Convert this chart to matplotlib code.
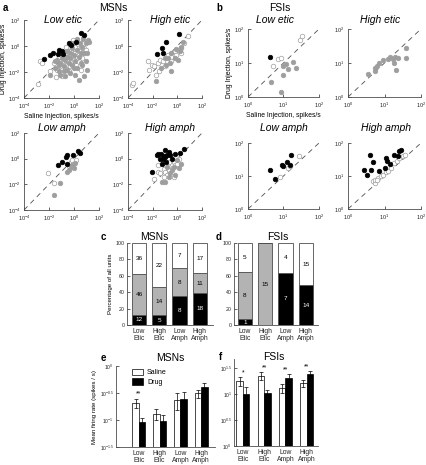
import numpy as np
import matplotlib
matplotlib.use('Agg')
import matplotlib.pyplot as plt
from matplotlib.ticker import FixedLocator, FixedFormatter, NullLocator

plt.rcParams['font.family'] = ['Liberation Sans', 'DejaVu Sans']
plt.rcParams['mathtext.fontset'] = 'custom'
plt.rcParams['mathtext.rm'] = 'Liberation Sans'
plt.rcParams['mathtext.it'] = 'Liberation Sans:italic'
plt.rcParams['axes.linewidth'] = 0.6

# ---- scatter data: (log10 saline rate, log10 drug rate) ----
# MSNs, low eticlopride
msn_le_inc = [(-2.44, -1.01), (-1.96, -0.68), (-1.69, -0.55), (-1.31, -0.60), (-0.94, -0.42),
              (-0.88, -0.60), (-0.42, 0.21), (-0.24, 0.06), (0.19, 0.27), (0.57, 0.98),
              (0.78, 0.85), (-1.23, -0.30)]
msn_le_dec = [(-1.90, -2.21), (-1.50, -1.70), (-1.23, -1.95), (-1.10, -1.32), (-0.83, -1.57),
              (-0.69, -1.06), (-0.56, -1.83), (-0.42, -1.32), (-0.29, -0.93), (-0.16, -1.44),
              (-0.02, -0.68), (0.11, -1.19), (0.25, -0.30), (0.38, -0.81), (0.52, -1.32),
              (0.65, -0.04), (0.78, -0.55), (0.92, 0.21), (1.05, -0.55), (1.11, 0.47),
              (-0.69, -2.34), (-0.34, -2.08), (0.11, -2.21), (0.78, -2.34), (0.25, 0.52),
              (0.46, 0.21), (-0.16, -0.17), (-0.56, -0.42), (-0.96, -0.93), (-1.37, -1.06),
              (0.65, -1.44), (0.92, -1.19), (-0.02, -1.70), (0.25, -1.70), (-0.29, -0.55),
              (0.52, -0.55), (-0.56, -0.81), (-0.83, -1.95), (-1.23, -1.44), (-1.50, -1.19),
              (1.05, -1.83), (-1.10, -2.21), (0.38, -2.59), (1.19, 0.34), (0.73, 0.52),
              (-0.08, 0.21)]
msn_le_ns = [(-2.71, -1.14), (-2.58, -1.32), (-2.92, -2.92), (-1.45, -2.39), (-0.96, -2.34),
             (-0.69, -1.70), (0.03, -0.55), (-0.42, -0.17), (-0.24, -0.30), (0.11, -0.04),
             (-0.56, -1.19), (-0.16, -0.81), (0.25, -0.93), (0.52, -0.17), (0.38, -0.42),
             (-1.10, -1.57), (-1.37, -1.83), (-0.83, -1.19), (-0.42, -0.68), (-0.02, -1.06),
             (0.19, -1.44), (0.65, -0.93), (0.78, -0.17), (-0.29, -1.57), (-0.96, -0.55),
             (-0.69, -0.81), (-1.63, -1.32), (0.52, -1.83), (0.92, -0.30), (-0.08, 0.47),
             (-0.61, -0.04), (0.30, 0.16), (-1.23, -0.81), (-0.42, -1.95), (0.11, -0.55),
             (-1.90, -1.95)]
# MSNs, high eticlopride
msn_he_inc = [(0.11, 0.90), (-0.88, 0.27), (-1.21, -0.17), (-1.64, -0.60), (-1.15, -0.55)]
msn_he_dec = [(0.47, 0.34), (0.27, -0.04), (-0.08, -0.24), (-0.49, -0.55), (-0.22, -0.93),
              (-0.77, -0.93), (0.05, -1.06), (-0.90, -1.44), (-1.32, -1.70), (-1.73, -2.72),
              (-0.49, -1.95), (-1.04, -0.93), (-0.63, -1.32), (0.19, -0.42)]
msn_he_ns = [(0.88, 0.78), (-2.41, -1.19), (-2.27, -1.83), (-2.08, -1.44), (-1.86, -1.57),
             (-1.59, -1.32), (-1.37, -1.06), (-1.18, -1.19), (-1.04, -1.57), (-0.77, -0.68),
             (-0.49, -0.81), (-0.22, -0.42), (0.05, -0.30), (0.27, -0.17), (0.55, 0.21),
             (-3.64, -2.97), (-3.56, -2.85), (-1.45, -1.95), (-1.73, -2.21), (-0.49, -1.19),
             (-0.08, -0.68), (0.33, -0.55)]
# MSNs, low amphetamine
msn_la_inc = [(-1.30, -0.51), (-0.95, -0.25), (-0.68, 0.14), (-0.54, 0.27), (-0.59, -0.38),
              (-0.05, 0.27), (0.32, 0.60), (0.46, 0.48)]
msn_la_dec = [(-1.62, -2.83), (-1.14, -1.88), (-0.59, -1.02), (-0.41, -0.89), (-0.27, -0.64),
              (-0.14, -0.51), (0.05, -0.33), (0.00, -0.76)]
msn_la_ns = [(-2.08, -1.15), (-1.57, -1.88), (-0.27, -0.25), (-0.14, -0.12), (0.14, -0.07),
             (-0.41, -0.58), (-0.05, -0.43)]
# MSNs, high amphetamine
msn_ha_inc = [(-2.03, -1.02), (-1.67, 0.27), (-1.53, 0.35), (-1.32, 0.40), (-1.12, 0.19),
              (-1.18, 0.01), (-0.99, 0.14), (-0.85, 0.27), (-0.71, 0.53), (-0.58, 0.27),
              (-0.44, 0.01), (-0.16, 0.40), (0.25, 0.45), (0.52, 0.79), (-0.93, -0.25),
              (-1.26, -0.43), (-1.04, 0.66), (-1.40, 0.01)]
msn_ha_dec = [(-1.26, -1.80), (-1.04, -1.80), (-0.71, -1.41), (-0.44, -0.89), (-0.30, -0.64),
              (-0.16, -1.28), (0.11, -0.76), (0.33, -0.38), (-0.85, -0.64), (-0.58, -1.15),
              (-0.03, -0.12)]
msn_ha_ns = [(-1.53, -0.51), (-1.59, -1.02), (-1.86, -1.62), (-1.12, -0.84), (-0.99, -1.02),
             (-0.85, -1.28), (-0.71, -0.89), (-0.58, -0.51), (-0.44, -0.38), (-0.30, -0.25),
             (-0.16, -0.51), (-0.03, -0.38), (-1.12, -1.41), (-1.40, -1.15), (-0.71, -0.25),
             (0.11, 0.01), (-0.30, -1.41)]

# FSIs
fsi_le_inc = [(0.61, 1.17)]
fsi_le_dec = [(0.64, 0.45), (0.94, 0.15), (0.99, 0.91), (1.06, 0.97), (1.13, 0.81),
              (1.27, 1.02), (1.36, 0.84), (1.00, 0.64)]
fsi_le_ns = [(0.70, 0.91), (0.85, 1.11), (0.92, 1.14), (1.46, 1.68), (1.53, 1.78)]
fsi_he_inc = []
fsi_he_dec = [(0.55, 0.69), (0.73, 0.77), (0.75, 0.84), (0.79, 0.91), (0.86, 0.99),
              (0.97, 1.09), (1.09, 1.13), (1.16, 1.17), (1.23, 1.11), (1.25, 0.99),
              (1.30, 1.17), (1.32, 0.79), (1.36, 1.14), (1.59, 1.14), (1.59, 1.44)]
fsi_he_ns = []
fsi_la_inc = [(0.61, 1.19), (0.75, 0.91), (0.97, 1.34), (0.99, 1.29), (1.10, 1.41),
              (1.17, 1.34), (1.22, 1.65)]
fsi_la_dec = []
fsi_la_ns = [(0.89, 0.96), (1.13, 1.24), (1.19, 1.31), (1.44, 1.62)]
fsi_ha_inc = [(0.45, 1.19), (0.53, 1.04), (0.59, 1.65), (0.64, 1.17), (0.68, 1.41),
              (0.86, 1.14), (1.00, 1.24), (1.05, 1.55), (1.06, 1.44), (1.15, 1.36),
              (1.27, 1.65), (1.36, 1.62), (1.41, 1.75), (1.45, 1.78)]
fsi_ha_dec = []
fsi_ha_ns = [(0.68, 0.84), (0.73, 0.79), (0.75, 0.89), (0.82, 0.94), (0.91, 0.99),
             (0.97, 1.04), (1.05, 1.11), (1.09, 1.14), (1.18, 1.24), (1.27, 1.39),
             (1.34, 1.44), (1.41, 1.55), (1.50, 1.60), (1.55, 1.65), (0.79, 0.87)]

# ---- unit counts (increase / decrease / no change) ----
conditions = ['Low\nEtic', 'High\nEtic', 'Low\nAmph', 'High\nAmph']
msn_inc = [12, 5, 8, 18]
msn_dec = [46, 14, 8, 11]
msn_ns = [36, 22, 7, 17]
fsi_inc = [1, 0, 7, 14]
fsi_dec = [8, 15, 0, 0]
fsi_ns = [5, 0, 4, 15]

# ---- mean firing rate (spikes/s) and sem ----
msn_saline = [0.21, 0.13, 0.23, 0.31]
msn_saline_sem = [0.04, 0.03, 0.08, 0.05]
msn_drug = [0.09, 0.095, 0.24, 0.41]
msn_drug_sem = [0.02, 0.03, 0.09, 0.07]
fsi_saline = [17.4, 22.4, 12.9, 16.2]
fsi_saline_sem = [3.5, 4.0, 2.5, 2.5]
fsi_drug = [10.0, 10.5, 20.0, 24.0]
fsi_drug_sem = [3.5, 1.5, 4.0, 3.5]
msn_stars = ['**', '', '', '']
fsi_stars = ['*', '**', '**', '**']

W, H = 426, 465
fig = plt.figure(figsize=(W / 100, H / 100), dpi=100)
GREY = '0.62'


def add_ax(x0, y0, x1, y1):
    return fig.add_axes([x0 / W, 1 - y1 / H, (x1 - x0) / W, (y1 - y0) / H])


def style(ax):
    for s in ['top', 'right']:
        ax.spines[s].set_visible(False)
    for s in ['left', 'bottom']:
        ax.spines[s].set_color('0.3')
    ax.tick_params(direction='in', length=2, width=0.5, labelsize=4.2, pad=1.5, colors='0.15')


def scatter_panel(ax, inc, dec, ns, lo, hi):
    ax.set_xscale('log')
    ax.set_yscale('log')
    ax.plot([10.0 ** lo, 10.0 ** hi], [10.0 ** lo, 10.0 ** hi], ls=(0, (6, 5)), color='0.3', lw=0.6)
    for pts, fc, ec in [(ns, 'white', GREY), (dec, GREY, GREY), (inc, 'black', 'black')]:
        if pts:
            a = 10.0 ** np.array(pts)
            ax.plot(a[:, 0], a[:, 1], 'o', ms=3.3, mfc=fc, mec=ec, mew=0.5, ls='none')
    ax.set_xlim(10.0 ** lo, 10.0 ** hi)
    ax.set_ylim(10.0 ** lo, 10.0 ** hi)
    step = 2 if hi - lo > 3 else 1
    t = [10.0 ** k for k in range(lo, hi + 1, step)]
    ax.xaxis.set_major_locator(FixedLocator(t))
    ax.yaxis.set_major_locator(FixedLocator(t))
    ax.xaxis.set_minor_locator(NullLocator())
    ax.yaxis.set_minor_locator(NullLocator())
    style(ax)
    ax.tick_params(labelsize=4.0)
    ax.tick_params(axis='x', pad=3)
    ax.tick_params(axis='y', pad=2.5)


# ---- panels a, b: scatter ----
msn_sets = [(msn_le_inc, msn_le_dec, msn_le_ns, (24, 20, 99, 98), 'Low etic', (63, 20)),
            (msn_he_inc, msn_he_dec, msn_he_ns, (128, 20, 202, 98), 'High etic', (170, 20)),
            (msn_la_inc, msn_la_dec, msn_la_ns, (24, 133, 99, 210), 'Low amph', (62, 128)),
            (msn_ha_inc, msn_ha_dec, msn_ha_ns, (128, 133, 202, 210), 'High amph', (170, 128))]
for i, (inc, dec, ns, box, title, tpos) in enumerate(msn_sets):
    ax = add_ax(*box)
    scatter_panel(ax, inc, dec, ns, -4, 2)
    fig.text(tpos[0] / W, 1 - tpos[1] / H, title, style='italic', fontsize=7.5,
             ha='center', va='center')
    if i == 0:
        ax.set_xlabel('Saline Injection, spikes/s', fontsize=4.9, labelpad=1)
        ax.set_ylabel('Drug Injection, spikes/s', fontsize=4.9, labelpad=1)

fsi_sets = [(fsi_le_inc, fsi_le_dec, fsi_le_ns, (248, 29, 319, 97), 'Low etic', (275, 20)),
            (fsi_he_inc, fsi_he_dec, fsi_he_ns, (348, 29, 421, 97), 'High etic', (380, 20)),
            (fsi_la_inc, fsi_la_dec, fsi_la_ns, (248, 143, 319, 209), 'Low amph', (284, 128)),
            (fsi_ha_inc, fsi_ha_dec, fsi_ha_ns, (348, 143, 421, 209), 'High amph', (386, 128))]
for i, (inc, dec, ns, box, title, tpos) in enumerate(fsi_sets):
    ax = add_ax(*box)
    scatter_panel(ax, inc, dec, ns, 0, 2)
    fig.text(tpos[0] / W, 1 - tpos[1] / H, title, style='italic', fontsize=7.5,
             ha='center', va='center')
    if i == 0:
        ax.set_xlabel('Saline Injection, spikes/s', fontsize=4.9, labelpad=1)
        ax.set_ylabel('Drug Injection, spikes/s', fontsize=4.9, labelpad=1)


def panel_label(x, y, letter, title, tx):
    fig.text(x / W, 1 - y / H, letter, fontsize=7, fontweight='bold', ha='left', va='center')
    fig.text(tx / W, 1 - y / H, title, fontsize=7.5, ha='center', va='center')


panel_label(3, 8, 'a', 'MSNs', 113)
panel_label(216, 8, 'b', 'FSIs', 280)
panel_label(101, 237, 'c', 'MSNs', 154)
panel_label(216, 237, 'd', 'FSIs', 278)
panel_label(101, 358, 'e', 'MSNs', 170)
panel_label(219, 357, 'f', 'FSIs', 274)


# ---- panels c, d: stacked percentage bars ----
def stack_panel(ax, inc, dec, ns, xlim):
    x = np.arange(1, 5)
    tot = np.array(inc) + np.array(dec) + np.array(ns)
    p_inc = 100.0 * np.array(inc) / tot
    p_dec = 100.0 * np.array(dec) / tot
    p_ns = 100.0 * np.array(ns) / tot
    kw = dict(width=0.71, edgecolor='0.3', linewidth=0.6)
    ax.bar(x, p_inc, color='black', **kw)
    ax.bar(x, p_dec, bottom=p_inc, color='0.7', **kw)
    ax.bar(x, p_ns, bottom=p_inc + p_dec, color='white', **kw)
    for i in range(4):
        segs = [(inc[i], 0, p_inc[i], 'white'), (dec[i], p_inc[i], p_dec[i], 'black'),
                (ns[i], p_inc[i] + p_dec[i], p_ns[i], 'black')]
        for n, b, h, c in segs:
            if n > 0:
                ax.text(x[i], b + h / 2, str(n), ha='center', va='center', fontsize=4.6, color=c)
    ax.set_xlim(*xlim)
    ax.set_ylim(0, 100)
    ax.set_yticks([0, 20, 40, 60, 80, 100])
    ax.set_xticks(x)
    ax.set_xticklabels(conditions, fontsize=4.9, linespacing=1.0)
    style(ax)
    ax.tick_params(axis='x', length=0, pad=2, labelsize=4.9)
    ax.tick_params(axis='y', labelsize=3.8)


axc = add_ax(127, 243, 213, 325)
stack_panel(axc, msn_inc, msn_dec, msn_ns, (0.41, 4.65))
axc.set_ylabel('Percentage of all units', fontsize=4.4, labelpad=2)
axd = add_ax(234, 243, 318, 325)
stack_panel(axd, fsi_inc, fsi_dec, fsi_ns, (0.46, 4.6))


# ---- panels e, f: mean firing rate ----
def rate_panel(ax, sal, sal_e, drug, drug_e, stars, ylim_log, tick_logs, tick_labels, xlim):
    x = np.arange(1, 5)
    w = 0.31
    bot = 10.0 ** ylim_log[0]
    ax.set_yscale('log')
    ax.bar(x - w / 2, np.array(sal) - bot, bottom=bot, width=w, color='white',
           edgecolor='black', linewidth=0.5, label='Saline')
    ax.bar(x + w / 2, np.array(drug) - bot, bottom=bot, width=w, color='black',
           edgecolor='black', linewidth=0.5, label='Drug')
    ax.errorbar(x - w / 2, sal, yerr=sal_e, fmt='none', ecolor='black', elinewidth=0.5,
                capsize=1.2, capthick=0.5)
    ax.errorbar(x + w / 2, drug, yerr=drug_e, fmt='none', ecolor='black', elinewidth=0.5,
                capsize=1.2, capthick=0.5)
    for i in range(4):
        if stars[i]:
            top = max(sal[i] + sal_e[i], drug[i] + drug_e[i])
            ax.text(x[i], top * 1.03, stars[i], ha='center', va='bottom', fontsize=5)
    ax.set_ylim(10.0 ** ylim_log[0], 10.0 ** ylim_log[1])
    ax.yaxis.set_major_locator(FixedLocator([10.0 ** t for t in tick_logs]))
    ax.yaxis.set_major_formatter(FixedFormatter(tick_labels))
    ax.yaxis.set_minor_locator(NullLocator())
    ax.set_xlim(*xlim)
    ax.set_xticks(x)
    ax.set_xticklabels(conditions, linespacing=1.0)
    style(ax)
    ax.tick_params(axis='x', length=0, pad=2, labelsize=4.9)
    ax.tick_params(axis='y', labelsize=3.6)


axe = add_ax(116, 366, 215, 447)
rate_panel(axe, msn_saline, msn_saline_sem, msn_drug, msn_drug_sem, msn_stars,
           (-1.5, 0.0), [-1.5, -1.0, -0.5, 0.0],
           [r'$10^{-1.5}$', r'$10^{-1}$', r'$10^{-0.5}$', r'$10^{0}$'], (-0.1, 4.67))
axe.set_ylabel('Mean firing rate (spikes / s)', fontsize=4.4, labelpad=2)
axe.legend(loc='upper left', bbox_to_anchor=(0.13, 1.0), fontsize=5, frameon=False,
           handlelength=1.7, handleheight=1.0, borderaxespad=0, labelspacing=0.3,
           handletextpad=0.5)

axf = add_ax(234, 359, 318, 446)
rate_panel(axf, fsi_saline, fsi_saline_sem, fsi_drug, fsi_drug_sem, fsi_stars,
           (0.0, 1.67), [0.0, 0.5, 1.0, 1.5],
           [r'$10^{0}$', r'$10^{0.5}$', r'$10^{1}$', r'$10^{1.5}$'], (0.58, 4.54))

fig.savefig('out.png', dpi=100)
